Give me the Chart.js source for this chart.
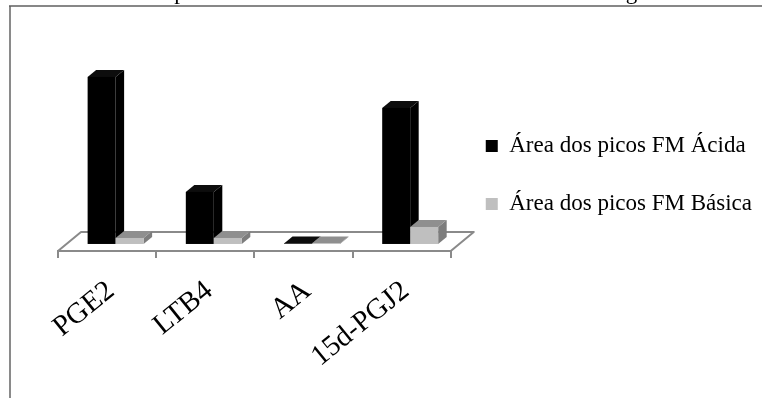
<!DOCTYPE html>
<html>
<head>
<meta charset="utf-8">
<script src="https://cdn.jsdelivr.net/npm/chart.js@4.4.1/dist/chart.umd.min.js"></script>
<style>
  html, body { margin: 0; padding: 0; background: #fff; }
  #wrap { width: 762px; height: 398px; }
</style>
</head>
<body>
<div id="wrap"><canvas id="c" width="762" height="398"></canvas></div>
<script>
// Lipid mediators and the peak areas measured for each mobile phase
const categories = ['PGE2', 'LTB4', 'AA', '15d-PGJ2'];
const areaAcida  = [16.7, 5.2, 0.05, 13.6];
const areaBasica = [0.6, 0.6, 0.05, 1.7];
const seriesNames = ['Área dos picos FM Ácida', 'Área dos picos FM Básica'];
const titleText = 'Área dos picos obtidos de SPE-FM estudados em modo negativo';

const SERIF = '"Liberation Serif", "Times New Roman", serif';

// Receding vector of the 3D floor; bars sit in its middle band
const DEPTH = { dx: 23, dy: -19 };
const BAR_FRONT = 0.37;   // where the bar front faces sit, as a share of the floor depth
const BAR_DEPTH = 0.37;   // how deep each bar is

// White page, the clipped frame and the heading running off the top edge
const framePlugin = {
  id: 'frame',
  beforeDraw(chart) {
    const ctx = chart.ctx;
    ctx.save();
    ctx.fillStyle = '#fff';
    ctx.fillRect(0, 0, chart.width, chart.height);
    ctx.lineWidth = 2;
    ctx.strokeStyle = '#8a8a8a';
    ctx.beginPath();
    ctx.moveTo(10, chart.height);
    ctx.lineTo(10, 6);
    ctx.stroke();
    ctx.lineWidth = 1.5;
    ctx.strokeStyle = '#5f5f5f';
    ctx.beginPath();
    ctx.moveTo(9, 6);
    ctx.lineTo(chart.width, 6);
    ctx.stroke();
    ctx.font = '23px ' + SERIF;
    ctx.fillStyle = '#000';
    ctx.textBaseline = 'alphabetic';
    ctx.textAlign = 'left';
    ctx.fillText(titleText, 86, -1.5);
    ctx.restore();
  }
};

// Floor plane under the columns
const floorPlugin = {
  id: 'floor3d',
  beforeDatasetsDraw(chart) {
    const { ctx, chartArea: a } = chart;
    ctx.save();
    ctx.beginPath();
    ctx.moveTo(a.left, a.bottom);
    ctx.lineTo(a.right, a.bottom);
    ctx.lineTo(a.right + DEPTH.dx, a.bottom + DEPTH.dy);
    ctx.lineTo(a.left + DEPTH.dx, a.bottom + DEPTH.dy);
    ctx.closePath();
    ctx.fillStyle = '#fff';
    ctx.fill();
    ctx.lineWidth = 2;
    ctx.strokeStyle = '#8a8a8a';
    ctx.lineJoin = 'round';
    ctx.stroke();
    ctx.restore();
  }
};

// Columns drawn as boxes (front, top and right side) from the bar elements
const boxPlugin = {
  id: 'bars3d',
  beforeDatasetDraw() { return false; },
  afterDatasetsDraw(chart) {
    const ctx = chart.ctx;
    const ox = DEPTH.dx * BAR_FRONT, oy = DEPTH.dy * BAR_FRONT;
    const ddx = DEPTH.dx * BAR_DEPTH, ddy = DEPTH.dy * BAR_DEPTH;
    ctx.save();
    chart.data.labels.forEach((_, i) => {
      chart.data.datasets.forEach((ds, di) => {
        const el = chart.getDatasetMeta(di).data[i];
        const p = el.getProps(['x', 'y', 'base', 'width'], true);
        const l = p.x - p.width / 2 + ox, r = p.x + p.width / 2 + ox;
        const t = p.y + oy, b = p.base + oy;
        // right side
        ctx.fillStyle = ds.sideColor;
        ctx.beginPath();
        ctx.moveTo(r, b); ctx.lineTo(r, t);
        ctx.lineTo(r + ddx, t + ddy); ctx.lineTo(r + ddx, b + ddy);
        ctx.closePath(); ctx.fill();
        // top
        ctx.fillStyle = ds.topColor;
        ctx.beginPath();
        ctx.moveTo(l, t); ctx.lineTo(r, t);
        ctx.lineTo(r + ddx, t + ddy); ctx.lineTo(l + ddx, t + ddy);
        ctx.closePath(); ctx.fill();
        // front
        ctx.fillStyle = ds.backgroundColor;
        ctx.fillRect(l, t, r - l, b - t);
      });
    });
    ctx.restore();
  }
};

new Chart(document.getElementById('c'), {
  type: 'bar',
  data: {
    labels: categories,
    datasets: [
      { label: seriesNames[0], data: areaAcida, backgroundColor: '#000000',
        topColor: '#0d0d0d', sideColor: '#000000', borderWidth: 0 },
      { label: seriesNames[1], data: areaBasica, backgroundColor: '#bfbfbf',
        topColor: '#8f8f8f', sideColor: '#7d7d7d', borderWidth: 0 }
    ]
  },
  options: {
    responsive: false,
    animation: false,
    devicePixelRatio: 1,
    // negative top padding lifts the legend so it centres beside the columns
    layout: { padding: { left: 58, right: 0, top: -26, bottom: 22 } },
    datasets: { bar: { barPercentage: 1, categoryPercentage: 0.57 } },
    scales: {
      x: {
        grid: { display: true, drawOnChartArea: false, drawTicks: true, tickLength: 7,
                color: '#8a8a8a', lineWidth: 2, offset: true },
        border: { display: true, color: '#8a8a8a', width: 2 },
        ticks: { color: '#000', font: { family: SERIF, size: 29 },
                 maxRotation: 39, minRotation: 39, autoSkip: false,
                 padding: 16, labelOffset: 4 },
        afterFit(scale) { scale.height = 125; }
      },
      y: { display: false, min: 0, max: 25.1 }
    },
    plugins: {
      legend: {
        position: 'right',
        align: 'center',
        labels: { color: '#000', font: { family: SERIF, size: 23 },
                  boxWidth: 12, boxHeight: 12, padding: 35 }
      },
      tooltip: { enabled: false },
      title: { display: false }
    }
  },
  plugins: [framePlugin, floorPlugin, boxPlugin]
});
</script>
</body>
</html>
